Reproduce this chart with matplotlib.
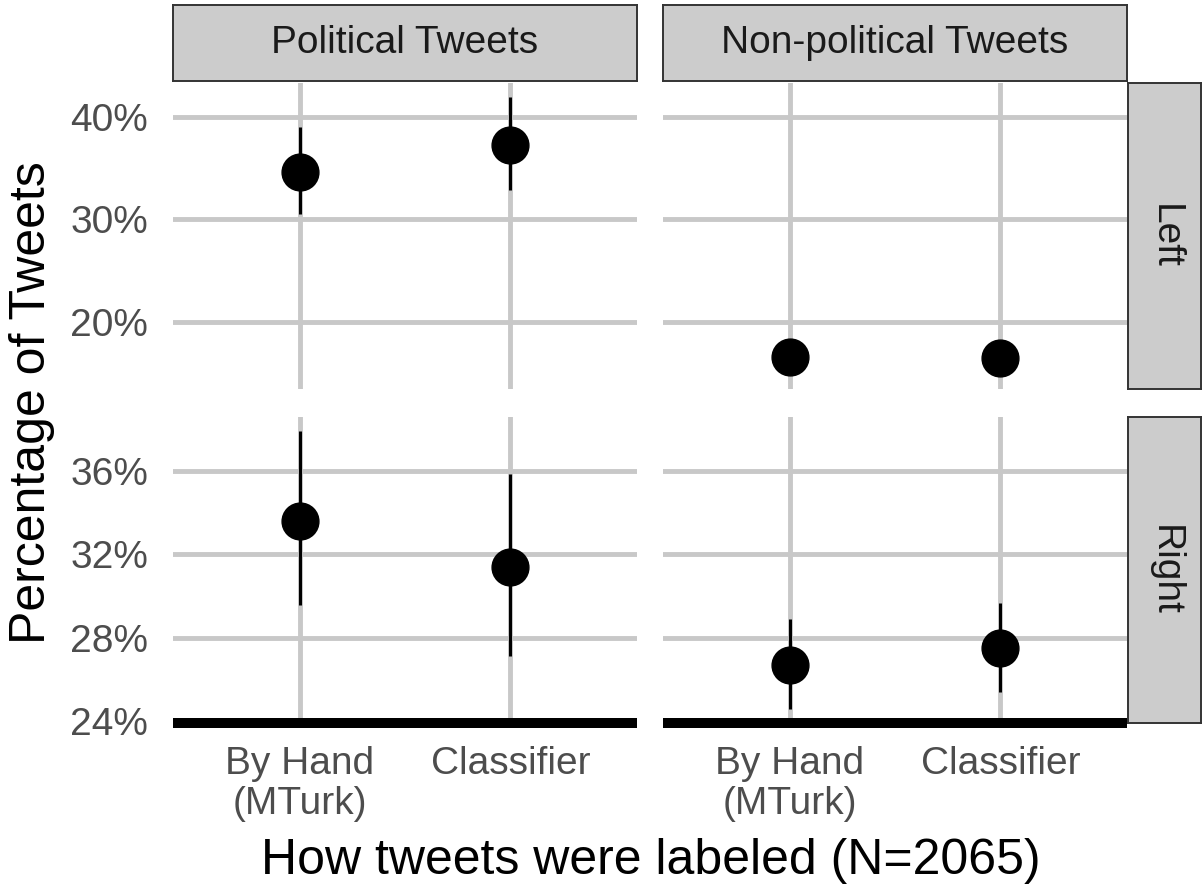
import matplotlib
matplotlib.use("Agg")
import matplotlib.pyplot as plt

plt.rcParams['font.family'] = ['Liberation Sans', 'DejaVu Sans']

# ---- data -------------------------------------------------------------
methods = ["By Hand\n(MTurk)", "Classifier"]
tweet_types = ["Political Tweets", "Non-political Tweets"]
leanings = ["Left", "Right"]

# estimates and 95% intervals (percent of tweets)
left_political_est = [34.6, 37.3]
left_political_low = [30.5, 32.9]
left_political_high = [39.0, 41.95]

left_nonpolitical_est = [16.6, 16.45]
left_nonpolitical_low = [15.0, 14.83]
left_nonpolitical_high = [18.3, 18.05]

right_political_est = [33.6, 31.4]
right_political_low = [29.56, 27.12]
right_political_high = [37.94, 35.86]

right_nonpolitical_est = [26.7, 27.5]
right_nonpolitical_low = [24.56, 25.37]
right_nonpolitical_high = [28.89, 29.68]

left_ticks = [20, 30, 40]
right_ticks = [24, 28, 32, 36]

x_label = "How tweets were labeled (N=2065)"
y_label = "Percentage of Tweets"

# ---- layout -------------------------------------------------------------
W, H = 1202, 888
fig = plt.figure(figsize=(W / 100, H / 100), dpi=100)
fig.patch.set_facecolor("white")


def rect(x0, y0, x1, y1):
    return [x0 / W, 1 - y1 / H, (x1 - x0) / W, (y1 - y0) / H]


col_px = [(173, 637), (663, 1127)]
row_px = [(83, 389), (417, 723)]

panels = {
    ("Left", "Political Tweets"): (left_political_est, left_political_low, left_political_high),
    ("Left", "Non-political Tweets"): (left_nonpolitical_est, left_nonpolitical_low, left_nonpolitical_high),
    ("Right", "Political Tweets"): (right_political_est, right_political_low, right_political_high),
    ("Right", "Non-political Tweets"): (right_nonpolitical_est, right_nonpolitical_low, right_nonpolitical_high),
}
row_ticks = {"Left": left_ticks, "Right": right_ticks}

grid_color = "#c8c8c8"
strip_fill = "#cccccc"
strip_edge = "#333333"

positions = list(range(1, len(methods) + 1))

for r, lean in enumerate(leanings):
    # free y scale per row, 5% expansion like ggplot
    lows = panels[(lean, tweet_types[0])][1] + panels[(lean, tweet_types[1])][1]
    highs = panels[(lean, tweet_types[0])][2] + panels[(lean, tweet_types[1])][2]
    lo, hi = min(lows), max(highs)
    span = hi - lo
    ylim = (lo - 0.05 * span, hi + 0.05 * span)

    for c, ttype in enumerate(tweet_types):
        x0, x1 = col_px[c]
        y0, y1 = row_px[r]
        ax = fig.add_axes(rect(x0, y0, x1, y1))
        ax.set_facecolor("white")
        est, low, high = panels[(lean, ttype)]

        ax.set_xlim(0.4, len(methods) + 0.6)
        ax.set_ylim(*ylim)
        ax.set_xticks(positions)
        ax.set_yticks(row_ticks[lean])
        ax.set_yticklabels([f"{t}%" for t in row_ticks[lean]])
        ax.set_xticklabels(methods, linespacing=1.13)
        ax.grid(True, color=grid_color, linewidth=3.5, zorder=0)
        ax.set_axisbelow(True)

        ax.vlines(positions, low, high, color="black", linewidth=2.2, zorder=3)
        ax.plot(positions, est, "o", color="black", markersize=26.5, zorder=4)

        ax.tick_params(axis="both", length=0, labelsize=28, labelcolor="#4d4d4d")
        ax.tick_params(axis="y", pad=18)
        ax.tick_params(axis="x", pad=16.5)
        if c > 0:
            ax.tick_params(axis="y", labelleft=False)
        if r == 0:
            ax.tick_params(axis="x", labelbottom=False)

        for side in ("top", "left", "right", "bottom"):
            ax.spines[side].set_visible(False)
        if r == len(leanings) - 1:
            sp = ax.spines["bottom"]
            sp.set_visible(True)
            sp.set_color("black")
            sp.set_linewidth(7.2)
            sp.set_capstyle("butt")
            sp.set_zorder(5)

# column strips
for c, ttype in enumerate(tweet_types):
    x0, x1 = col_px[c]
    sax = fig.add_axes(rect(x0, 5, x1, 81))
    sax.set_facecolor(strip_fill)
    sax.set_xticks([])
    sax.set_yticks([])
    for sp in sax.spines.values():
        sp.set_color(strip_edge)
        sp.set_linewidth(1.4)
    sax.text(0.5, 0.5, ttype, transform=sax.transAxes, ha="center", va="center",
             fontsize=28, color="#1a1a1a")

# row strips
for r, lean in enumerate(leanings):
    y0, y1 = row_px[r]
    sax = fig.add_axes(rect(1128, y0, 1201, y1))
    sax.set_facecolor(strip_fill)
    sax.set_xticks([])
    sax.set_yticks([])
    for sp in sax.spines.values():
        sp.set_color(strip_edge)
        sp.set_linewidth(1.4)
    sax.text(0.5, 0.5, lean, transform=sax.transAxes, ha="center", va="center",
             rotation=270, fontsize=28, color="#1a1a1a")

fig.text(651 / W, 1 - 861 / H, x_label, ha="center", va="center", fontsize=36, color="black")
fig.text(32 / W, 1 - 403 / H, y_label, ha="center", va="center", rotation=90,
         fontsize=36, color="black")

fig.savefig("out.png", dpi=100, facecolor="white")
